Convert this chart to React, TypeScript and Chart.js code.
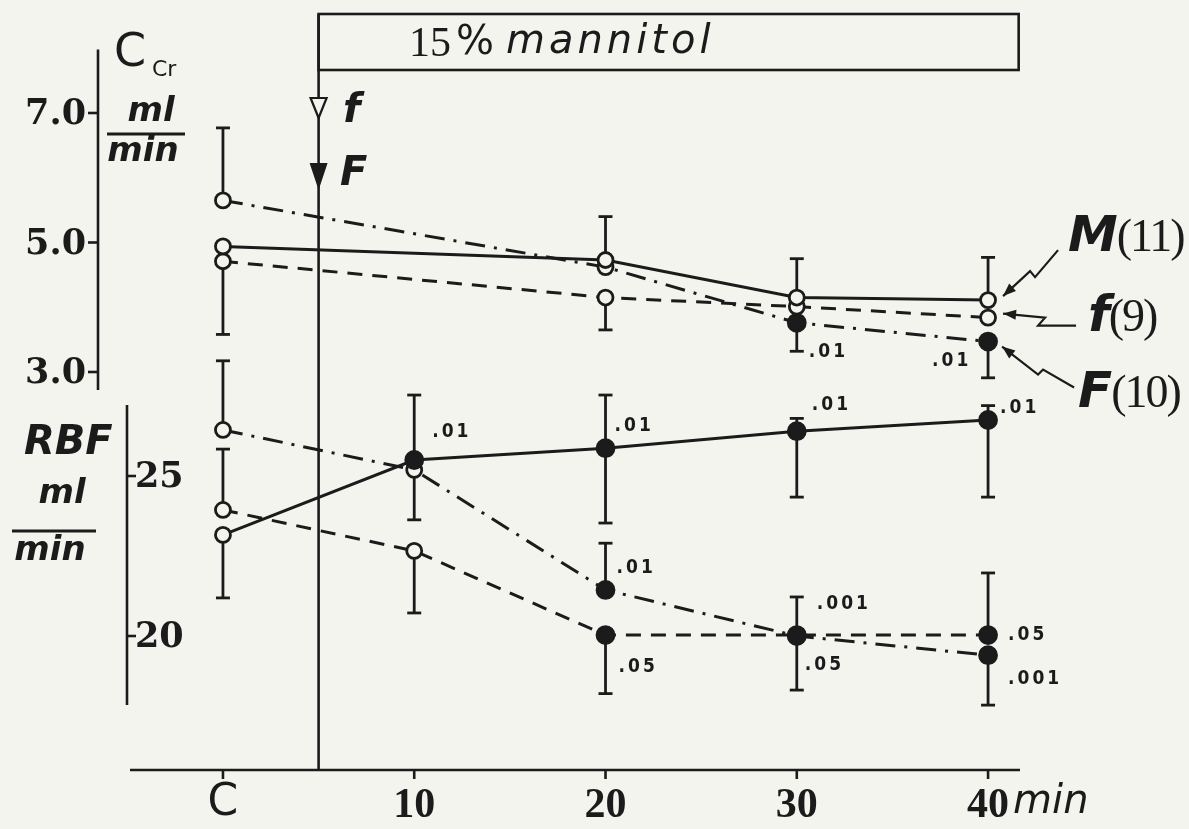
import React, { useEffect, useRef } from 'react';
import { Chart, registerables } from 'chart.js';

Chart.register(...registerables);

// ---------- data ----------
const timePoints = [0, 10, 20, 30, 40];
const timeLabels = ['C', '10', '20', '30', '40'];
const ccrTicks = [7.0, 5.0, 3.0];
const rbfTicks = [25, 20];
const infusionStart = 5;
const infusionEnd = 41.6;

// Creatinine clearance (ml/min)
const ccrM = [4.94, null, 4.73, 4.15, 4.11];
const ccrSmallF = [4.71, null, 4.15, 4.01, 3.84];
const ccrBigF = [5.65, null, 4.62, 3.76, 3.47];
const ccrMFilled = [false, false, false, false, false];
const ccrSmallFFilled = [false, false, false, false, false];
const ccrBigFFilled = [false, false, false, true, true];
const ccrMHigh = [null, null, 5.4, 4.75, 4.77];
const ccrMLow = [null, null, null, null, null];
const ccrSmallFHigh = [null, null, null, null, null];
const ccrSmallFLow = [3.58, null, 3.65, null, null];
const ccrBigFHigh = [6.77, null, null, null, null];
const ccrBigFLow = [null, null, null, 3.32, 2.91];

// Renal blood flow (ml/min)
const rbfM = [23.16, 25.5, 25.87, 26.4, 26.75];
const rbfSmallF = [23.94, 22.66, 20.03, 20.03, 20.03];
const rbfBigF = [26.44, 25.19, 21.44, 20.0, 19.4];
const rbfMFilled = [false, true, true, true, true];
const rbfSmallFFilled = [false, false, true, true, true];
const rbfBigFFilled = [false, false, true, true, true];
const rbfMHigh = [null, 27.53, 27.53, 26.8, 27.2];
const rbfMLow = [21.19, null, 23.53, 24.34, 24.34];
const rbfSmallFHigh = [25.84, null, null, null, 21.97];
const rbfSmallFLow = [null, 20.72, 18.2, 18.31, null];
const rbfBigFHigh = [28.6, null, 22.9, 21.22, null];
const rbfBigFLow = [null, 23.63, null, null, 17.84];

// significance labels: [series key, point index, text, dx, dy]
const pLabels: [string, number, string, number, number][] = [
  ['ccrBigF', 3, '.01', 12, 29],
  ['ccrBigF', 4, '.01', -56, 20],
  ['rbfM', 1, '.01', 18, -28],
  ['rbfM', 2, '.01', 9, -22],
  ['rbfBigF', 2, '.01', 11, -22],
  ['rbfSmallF', 2, '.05', 13, 32],
  ['rbfM', 3, '.01', 15, -26],
  ['rbfM', 4, '.01', 12, -12],
  ['rbfBigF', 3, '.001', 20, -32],
  ['rbfSmallF', 3, '.05', 8, 30],
  ['rbfSmallF', 4, '.05', 20, 0],
  ['rbfBigF', 4, '.001', 20, 24],
];

const BG = '#f4f4ee';
const INK = '#1b1b1b';
const SERIF = '"Liberation Serif", "DejaVu Serif", serif';
const DSERIF = '"DejaVu Serif", "Liberation Serif", serif';
const SANS = '"DejaVu Sans", "Liberation Sans", sans-serif';
const NARROW = '"DejaVu Sans Condensed", "Liberation Sans Narrow", sans-serif';

type Series = {
  key: string;
  axis: 'yU' | 'yL';
  values: (number | null)[];
  filled: boolean[];
  high: (number | null)[];
  low: (number | null)[];
  dash: number[];
};

const series: Series[] = [
  { key: 'ccrM', axis: 'yU', values: ccrM, filled: ccrMFilled, high: ccrMHigh, low: ccrMLow, dash: [] },
  { key: 'ccrSmallF', axis: 'yU', values: ccrSmallF, filled: ccrSmallFFilled, high: ccrSmallFHigh, low: ccrSmallFLow, dash: [15, 10] },
  { key: 'ccrBigF', axis: 'yU', values: ccrBigF, filled: ccrBigFFilled, high: ccrBigFHigh, low: ccrBigFLow, dash: [20, 9, 3, 9] },
  { key: 'rbfM', axis: 'yL', values: rbfM, filled: rbfMFilled, high: rbfMHigh, low: rbfMLow, dash: [] },
  { key: 'rbfSmallF', axis: 'yL', values: rbfSmallF, filled: rbfSmallFFilled, high: rbfSmallFHigh, low: rbfSmallFLow, dash: [15, 10] },
  { key: 'rbfBigF', axis: 'yL', values: rbfBigF, filled: rbfBigFFilled, high: rbfBigFHigh, low: rbfBigFLow, dash: [20, 9, 3, 9] },
];

function line(ctx: CanvasRenderingContext2D, x1: number, y1: number, x2: number, y2: number) {
  ctx.beginPath();
  ctx.moveTo(x1, y1);
  ctx.lineTo(x2, y2);
  ctx.stroke();
}

function arrow(ctx: CanvasRenderingContext2D, pts: [number, number][]) {
  ctx.beginPath();
  ctx.moveTo(pts[0][0], pts[0][1]);
  for (let i = 1; i < pts.length; i++) ctx.lineTo(pts[i][0], pts[i][1]);
  ctx.stroke();
  const [tx, ty] = pts[pts.length - 1];
  const [px, py] = pts[pts.length - 2];
  const a = Math.atan2(ty - py, tx - px);
  const L = 13, W = 5;
  ctx.beginPath();
  ctx.moveTo(tx, ty);
  ctx.lineTo(tx - L * Math.cos(a) + W * Math.sin(a), ty - L * Math.sin(a) - W * Math.cos(a));
  ctx.lineTo(tx - L * Math.cos(a) - W * Math.sin(a), ty - L * Math.sin(a) + W * Math.cos(a));
  ctx.closePath();
  ctx.fill();
}

const figurePlugin = {
  id: 'figure',
  beforeDraw(chart: any) {
    const ctx = chart.ctx;
    ctx.save();
    ctx.fillStyle = BG;
    ctx.fillRect(0, 0, chart.width, chart.height);
    ctx.restore();
  },
  beforeDatasetsDraw(chart: any) {
    const { ctx, chartArea } = chart;
    const x = chart.scales.x, yU = chart.scales.yU, yL = chart.scales.yL;
    ctx.save();
    ctx.strokeStyle = INK;
    ctx.fillStyle = INK;
    ctx.lineWidth = 2.6;
    ctx.lineCap = 'butt';

    // x axis
    const baseY = chartArea.bottom;
    line(ctx, chartArea.left, baseY, chartArea.right, baseY);
    ctx.textBaseline = 'middle';
    timePoints.forEach((t, i) => {
      const px = x.getPixelForValue(t);
      line(ctx, px, baseY, px, baseY + 9);
      const lab = timeLabels[i];
      ctx.textAlign = 'center';
      if (lab === 'C') {
        ctx.font = `44px ${SANS}`;
        ctx.fillText(lab, px, 804);
      } else {
        ctx.font = `bold 42px ${SERIF}`;
        ctx.fillText(lab, px, 806);
        if (i === timeLabels.length - 1) {
          const w = ctx.measureText(lab).width;
          ctx.font = `italic 40px ${SANS}`;
          ctx.textAlign = 'left';
          ctx.fillText('min', px + w / 2 + 4, 803);
        }
      }
    });

    // upper y axis (C_Cr)
    const ux = 98;
    line(ctx, ux, yU.getPixelForValue(7.98), ux, yU.getPixelForValue(2.72));
    ccrTicks.forEach((v) => {
      const py = yU.getPixelForValue(v);
      line(ctx, ux - 10, py, ux, py);
      ctx.font = `bold 35px ${DSERIF}`;
      ctx.textAlign = 'right';
      ctx.fillText(v.toFixed(1), ux - 12, py + 2);
    });

    // lower y axis (RBF)
    const lx = 127;
    line(ctx, lx, yL.getPixelForValue(27.22), lx, yL.getPixelForValue(17.84));
    rbfTicks.forEach((v) => {
      const py = yL.getPixelForValue(v);
      line(ctx, lx, py, lx + 9, py);
      ctx.font = `bold 35px ${DSERIF}`;
      ctx.textAlign = 'left';
      ctx.fillText(String(v), lx + 8, py + 2);
    });

    // infusion box and line
    const sx = x.getPixelForValue(infusionStart);
    const ex = x.getPixelForValue(infusionEnd);
    ctx.strokeRect(sx, 14, ex - sx, 56);
    line(ctx, sx, 14, sx, baseY);

    // triangles
    ctx.beginPath();
    ctx.moveTo(sx - 8, 98);
    ctx.lineTo(sx + 8, 98);
    ctx.lineTo(sx, 118);
    ctx.closePath();
    ctx.fillStyle = BG;
    ctx.fill();
    ctx.lineWidth = 2.2;
    ctx.stroke();
    ctx.fillStyle = INK;
    ctx.beginPath();
    ctx.moveTo(sx - 9, 163);
    ctx.lineTo(sx + 9, 163);
    ctx.lineTo(sx, 190);
    ctx.closePath();
    ctx.fill();

    // error bars
    ctx.lineWidth = 2.8;
    series.forEach((s) => {
      const sc = s.axis === 'yU' ? yU : yL;
      timePoints.forEach((t, i) => {
        const v = s.values[i];
        if (v == null) return;
        const px = x.getPixelForValue(t);
        const py = sc.getPixelForValue(v);
        const hi = s.high[i];
        const lo = s.low[i];
        if (hi != null) {
          const hy = sc.getPixelForValue(hi);
          line(ctx, px, py, px, hy);
          line(ctx, px - 7, hy, px + 7, hy);
        }
        if (lo != null) {
          const ly = sc.getPixelForValue(lo);
          line(ctx, px, py, px, ly);
          line(ctx, px - 7, ly, px + 7, ly);
        }
      });
    });
    ctx.restore();
  },
  afterDatasetsDraw(chart: any) {
    const { ctx } = chart;
    const x = chart.scales.x, yU = chart.scales.yU, yL = chart.scales.yL;
    ctx.save();
    ctx.fillStyle = INK;
    ctx.strokeStyle = INK;
    ctx.textBaseline = 'middle';

    // axis titles
    ctx.textAlign = 'left';
    ctx.font = `46px ${SANS}`;
    ctx.fillText('C', 114, 54);
    ctx.font = `22px ${SANS}`;
    ctx.fillText('Cr', 152, 70);
    ctx.textAlign = 'center';
    ctx.font = `italic bold 34px ${SANS}`;
    ctx.fillText('ml', 151, 112);
    ctx.lineWidth = 3;
    line(ctx, 107, 134, 185, 134);
    ctx.fillText('min', 143, 152);

    ctx.textAlign = 'left';
    ctx.font = `italic bold 40px ${SANS}`;
    ctx.fillText('RBF', 24, 444);
    ctx.textAlign = 'center';
    ctx.font = `italic bold 34px ${SANS}`;
    ctx.fillText('ml', 62, 494);
    line(ctx, 12, 531, 96, 531);
    ctx.fillText('min', 50, 551);

    // infusion text
    ctx.textAlign = 'left';
    let cx = 409;
    ctx.font = `42px ${SERIF}`;
    ctx.fillText('15', cx, 45);
    cx += ctx.measureText('15').width + 5;
    ctx.font = `40px ${SANS}`;
    ctx.fillText('%', cx, 44);
    cx += ctx.measureText('%').width + 12;
    ctx.font = `italic 40px ${SANS}`;
    (ctx as any).letterSpacing = '4px';
    ctx.fillText('mannitol', cx, 43);
    (ctx as any).letterSpacing = '0px';

    // f / F markers
    ctx.font = `italic bold 40px ${SANS}`;
    ctx.fillText('f', 343, 112);
    ctx.fillText('F', 340, 175);

    // p-value labels
    ctx.font = `bold 19px ${NARROW}`;
    (ctx as any).letterSpacing = '3px';
    pLabels.forEach(([key, idx, text, dx, dy]) => {
      const s = series.find((q) => q.key === key)!;
      const sc = s.axis === 'yU' ? yU : yL;
      const px = x.getPixelForValue(timePoints[idx]);
      const py = sc.getPixelForValue(s.values[idx] as number);
      ctx.fillText(text, px + dx, py + dy);
    });
    (ctx as any).letterSpacing = '0px';

    // series labels with arrows
    const endIdx = timePoints.length - 1;
    const ex = x.getPixelForValue(timePoints[endIdx]);
    const pm = yU.getPixelForValue(ccrM[endIdx] as number);
    const pf = yU.getPixelForValue(ccrSmallF[endIdx] as number);
    const pF = yU.getPixelForValue(ccrBigF[endIdx] as number);
    ctx.lineWidth = 2.2;
    arrow(ctx, [[ex + 70, pm - 50], [ex + 47, pm - 23], [ex + 42, pm - 29], [ex + 15, pm - 4]]);
    arrow(ctx, [[ex + 88, pf + 8], [ex + 50, pf + 8], [ex + 57, pf], [ex + 15, pf - 4]]);
    arrow(ctx, [[ex + 86, pF + 46], [ex + 55, pF + 28], [ex + 50, pF + 33], [ex + 14, pF + 5]]);

    ctx.textAlign = 'left';
    const drawLabel = (a: string, b: string, lx: number, ly: number) => {
      ctx.font = `italic bold 50px ${SANS}`;
      ctx.fillText(a, lx, ly);
      const w = ctx.measureText(a).width;
      ctx.font = `46px ${SERIF}`;
      (ctx as any).letterSpacing = '-2px';
      ctx.fillText(b, lx + w - 1, ly + 1);
      (ctx as any).letterSpacing = '0px';
    };
    drawLabel('M', '(11)', 1068, 238);
    drawLabel('f', '(9)', 1088, 318);
    drawLabel('F', '(10)', 1078, 394);
    ctx.restore();
  },
};

export default function App() {
  const ref = useRef<HTMLCanvasElement | null>(null);
  useEffect(() => {
    if (!ref.current) return;
    const datasets = series.map((s) => {
      const idx = timePoints.map((_, i) => i).filter((i) => s.values[i] != null);
      return {
        label: s.key,
        yAxisID: s.axis,
        data: idx.map((i) => ({ x: timePoints[i], y: s.values[i] as number })),
        borderColor: INK,
        borderWidth: 3,
        borderDash: s.dash,
        pointRadius: idx.map((i) => (s.filled[i] ? 8.5 : 7.5)),
        pointBorderWidth: 2.8,
        pointBackgroundColor: idx.map((i) => (s.filled[i] ? INK : BG)),
        pointBorderColor: INK,
        fill: false,
        tension: 0,
        clip: false as any,
      };
    });
    const chart = new Chart(ref.current, {
      type: 'line',
      data: { datasets },
      options: {
        responsive: false,
        maintainAspectRatio: false,
        animation: false,
        layout: { padding: { left: 130, right: 169, top: 14, bottom: 59 } },
        plugins: { legend: { display: false }, tooltip: { enabled: false } },
        scales: {
          x: { type: 'linear', min: -4.86, max: 41.67, display: false },
          yU: { type: 'linear', min: -3.147, max: 8.529, display: false },
          yL: { type: 'linear', min: 15.8125, max: 39.4375, display: false },
        },
      },
      plugins: [figurePlugin],
    });
    return () => chart.destroy();
  }, []);
  return (
    <div style={{ position: 'fixed', left: 0, top: 0, width: 1189, height: 829, background: BG }}>
      <canvas ref={ref} width={1189} height={829} style={{ display: 'block' }} />
    </div>
  );
}
